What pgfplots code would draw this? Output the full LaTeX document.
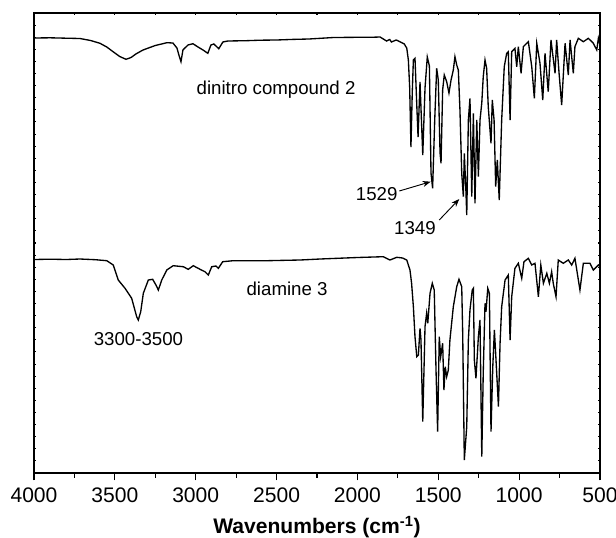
\documentclass[border=0pt]{standalone}
\usepackage{pgfplots}
\usepackage{pgfplotstable}
\pgfplotsset{compat=1.18}
\usetikzlibrary{arrows.meta}
\usepackage{fontspec}
\setmainfont{Liberation Sans}

\pgfplotstableread{
x y
4000 435
3900 435.2
3800 434.8
3716 434.5
3650 432.5
3592 429.7
3550 426
3511 421.3
3470 416.5
3431 413.7
3400 415.5
3370 419
3326 423
3250 427.5
3178 430.3
3141 430
3116 425
3104 418
3091 411.3
3079 423
3048 428
3017 429.3
2986 426
2955 423
2925 419.7
2906 428
2888 429
2857 424.3
2832 431
2801 432
2690 432.3
2600 432.8
2500 433
2400 433.6
2300 434
2147 435.5
2000 435.7
1900 435.8
1860 436
1820 432
1800 433.5
1790 431
1760 433
1734 431
1710 429
1703 427
1695 425
1685 413
1677 386
1669 326
1661 380
1654 413
1644 414.7
1633 368
1625 336
1613 391
1596 318
1582 385
1568 416
1555 407
1545 300
1535 284.7
1522 353
1510 404.7
1500 393
1489 320
1483 309.7
1473 383
1463 398
1448 391.3
1434 380
1421 393
1407 403
1397 416.3
1386 408
1376 403
1366 363
1355 299.7
1345 276.3
1339 319.7
1330 286.3
1324 258
1314 353
1304 374.7
1293 276.3
1283 359.7
1273 269.7
1262 353
1252 296.3
1242 353
1231 370
1222 396.3
1211 413
1201 404.7
1191 366.3
1174 329.7
1166 373
1155 353
1145 286.3
1135 313
1123 273
1108 353
1092 406.3
1077 419.7
1067 421.3
1056 353
1046 421.3
1026 424.7
1015 406.3
1005 426.3
988 399.7
974 426.3
943 431.3
922 406.3
906 374.7
891 429.7
871 409.7
854 373
840 419.7
820 381.3
803 433
778 399.7
768 433
753 399.7
737 368
716 429.7
696 398
685 433
665 399.7
655 426.3
634 434.7
603 431.3
572 434.7
541 429.7
520 423
510 434.7
500 428
}\dinitro

\pgfplotstableread{
x y
4000 213.5
3900 213.8
3800 213.5
3716 214
3620 213.3
3550 212.3
3510 208
3479 193
3437 184.7
3396 174.7
3365 156.3
3355 153
3340 161.3
3324 179.7
3293 193
3266 193.7
3246 188
3231 183
3210 193
3179 203
3139 207.3
3077 206.3
3046 203.7
3015 207.3
2973 203.7
2943 201.3
2922 198
2901 206.3
2875 207
2860 204.7
2833 211.3
2768 212.3
2561 212.3
2355 213
2231 214
2000 215.5
1840 216.3
1799 213
1757 215.7
1720 215
1695 213
1675 203
1665 189.7
1654 166.3
1644 136.3
1633 116.3
1623 118
1613 144.7
1607 133
1596 51.3
1582 146.3
1572 159.7
1565 149.7
1551 179.7
1537 189.7
1525 183
1514 103
1504 41.3
1494 136.3
1485 116.3
1473 129.7
1465 83
1457 106.3
1448 96.3
1438 103
1428 133
1407 166.3
1386 186.3
1372 193.7
1355 186.3
1349 139.7
1339 13
1324 46.3
1314 133
1304 163
1290 183
1283 184.7
1277 113
1267 94.7
1252 136.3
1242 153
1231 16.3
1222 99.7
1211 169.7
1205 161.3
1194 184.7
1184 179.7
1174 41.3
1163 106.3
1153 143
1143 113
1128 66.3
1118 129.7
1108 166.3
1087 193
1067 198
1056 133
1046 176.3
1026 204.7
1005 209.7
984 194.7
970 211.3
943 214.7
922 208
902 209.7
881 176.3
866 208
850 189.7
829 199.7
813 189.7
799 201.3
789 189.7
772 176.3
758 213
727 209.7
696 213
675 208
655 214.7
624 183
603 209.7
562 209.7
541 203
510 208
500 206.3
}\diamine

\begin{document}
\begin{tikzpicture}[font=\fontsize{14}{16}\selectfont]
\begin{axis}[name=main,
  scale only axis, width=424.5pt, height=345pt,
  xmin=500, xmax=4000, ymin=0, ymax=460, x dir=reverse,
  xtick={500,1000,...,4000}, minor x tick num=1,
  ytick=\empty, xtick pos=bottom, tick align=outside,
  major tick length=5.6pt, minor tick length=3.4pt,
  axis line style={line width=0.9pt},
  tick style={line width=0.8pt, black},
  /pgf/number format/assume math mode=true,
  /pgf/number format/1000 sep={},
  xticklabel style={font=\fontsize{15.8}{18}\selectfont, inner sep=2pt, yshift=-3.6pt},
  xlabel={\textbf{Wavenumbers (cm\textsuperscript{-1})}},
  xlabel style={font=\fontsize{15.8}{18}\selectfont, inner sep=1pt, yshift=-6.8pt},
  clip=false]
\addplot[black, line width=1pt] table[x=x,y=y]{\dinitro};
\addplot[black, line width=1pt] table[x=x,y=y]{\diamine};
\node at (axis cs:2503,383) {dinitro compound 2};
\node at (axis cs:2435,184) {diamine 3};
\node at (axis cs:3354,134) {3300-3500};
\node at (axis cs:1881,279.3) {1529};
\node at (axis cs:1644,245) {1349};
\draw[line width=0.7pt, -{Stealth[length=6pt,width=4.5pt]}] (axis cs:1741,282) -- (axis cs:1547,291.3);
\draw[line width=0.7pt, -{Stealth[length=6pt,width=4.5pt]}] (axis cs:1494,253) -- (axis cs:1370,274);
\end{axis}
\begin{axis}[
  scale only axis, width=424.5pt, height=345pt,
  xmin=500, xmax=4000, ymin=0, ymax=460, x dir=reverse,
  xtick={500,750,...,4000}, xtick pos=top,
  ytick={0,12.105,...,460}, ytick pos=both,
  xticklabels={}, yticklabels={},
  tick align=inside, major tick length=1.6pt,
  axis line style={line width=0.9pt},
  tick style={line width=0.8pt, black}]
\end{axis}
\pgfresetboundingbox
\useasboundingbox ([xshift=-25.5pt,yshift=-48pt]main.south west) rectangle ([xshift=12pt,yshift=9.75pt]main.north east);
\end{tikzpicture}
\end{document}
